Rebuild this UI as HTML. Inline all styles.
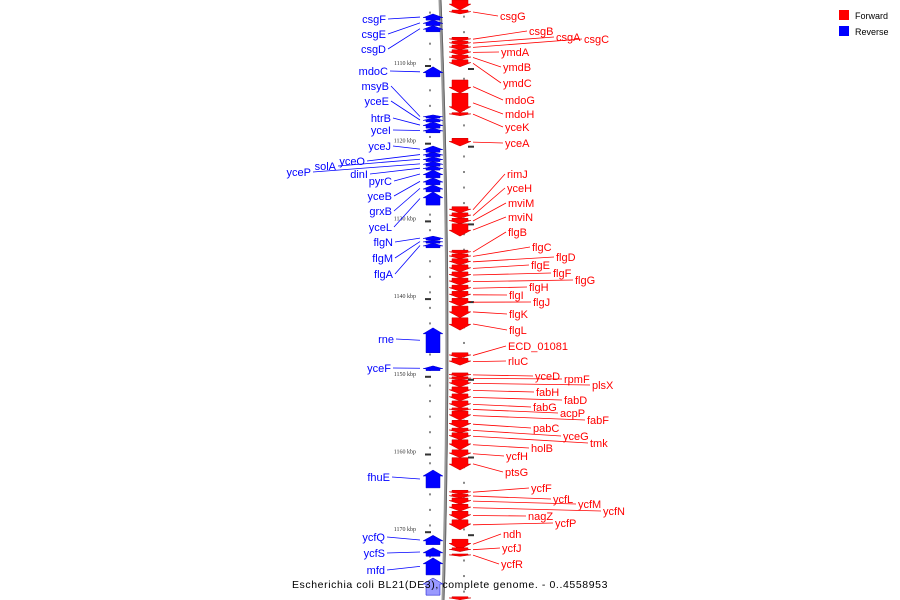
<!DOCTYPE html>
<html><head><meta charset="utf-8"><style>
html,body{margin:0;padding:0;background:#fff;}
svg{display:block;font-family:"Liberation Sans",sans-serif;}
</style></head><body>
<svg id="chart" width="900" height="600" viewBox="0 0 900 600">
<path d="M440,0 Q452,300 443,600" stroke="#999" stroke-width="3" fill="none"/>
<path d="M441,0 Q453,300 444,600" stroke="#666" stroke-width="1" fill="none"/>
<g id="ticks"></g><g id="genes"></g><g id="lines"></g><g id="labels"></g>
<g>
<rect x="839" y="10" width="10" height="10" fill="#f00"/>
<text x="855" y="19" font-size="9" fill="#000">Forward</text>
<rect x="839" y="26" width="10" height="10" fill="#00f"/>
<text x="855" y="35" font-size="9" fill="#000">Reverse</text>
</g>
<text x="450" y="588" text-anchor="middle" font-size="10.5" letter-spacing="0.6" fill="#000">Escherichia coli BL21(DE3), complete genome. - 0..4558953</text>
</svg>
<script>
// gene data: name, strand (1 fwd, -1 rev), start kbp, end kbp
const geneNames = ["top","csgG","csgB","csgA","csgC","ymdA","ymdB","ymdC","mdoG","mdoH","yceK","yceA","rimJ","yceH","mviM","mviN","flgB","flgC","flgD","flgE","flgF","flgG","flgH","flgI","flgJ","flgK","flgL","ECD_01081","rluC","yceD","rpmF","plsX","fabH","fabD","fabG","acpP","fabF","pabC","yceG","tmk","holB","ycfH","ptsG","ycfF","ycfL","ycfM","ycfN","nagZ","ycfP","ndh","ycfJ","ycfR","bottom",
"csgF","csgE","csgD","mdoC","msyB","yceE","htrB","yceI","yceJ","yceO","solA","yceP","dinI","pyrC","yceB","grxB","yceL","flgN","flgM","flgA","rne","yceF","fhuE","ycfQ","ycfS","mfd","next"];
const geneStrand = [1,1,1,1,1,1,1,1,1,1,1,1,1,1,1,1,1,1,1,1,1,1,1,1,1,1,1,1,1,1,1,1,1,1,1,1,1,1,1,1,1,1,1,1,1,1,1,1,1,1,1,1,1,
-1,-1,-1,-1,-1,-1,-1,-1,-1,-1,-1,-1,-1,-1,-1,-1,-1,-1,-1,-1,-1,-1,-1,-1,-1,-1];
const geneStart = [1101.5,1102.8,1106.3,1106.8,1107.3,1107.9,1108.6,1109.2,1111.8,1113.5,1116.0,1119.3,1128.1,1128.9,1129.6,1130.3,1133.7,1134.2,1134.8,1135.6,1136.5,1137.3,1138.2,1139.0,1139.9,1140.9,1142.4,1146.9,1147.6,1149.5,1150.0,1150.4,1151.3,1152.2,1153.1,1154.0,1154.4,1155.6,1156.6,1157.2,1158.1,1159.4,1160.4,1164.6,1165.1,1165.6,1166.4,1167.3,1168.4,1170.9,1172.0,1172.8,1178.3,
1103.3,1104.1,1104.8,1110.1,1116.3,1116.7,1117.2,1118.0,1120.3,1121.1,1121.7,1122.3,1122.9,1123.4,1124.4,1125.3,1126.2,1131.9,1132.4,1132.8,1143.7,1148.6,1162.0,1170.4,1172.0,1173.3,1175.9];
const geneEnd = [1102.8,1103.3,1106.8,1107.3,1107.9,1108.6,1109.2,1110.1,1113.5,1116.0,1116.4,1120.3,1128.9,1129.6,1130.3,1131.9,1134.2,1134.8,1135.6,1136.5,1137.3,1138.2,1139.0,1139.9,1140.9,1142.4,1144.0,1147.6,1148.5,1150.0,1150.4,1151.3,1152.2,1153.1,1154.0,1154.4,1155.6,1156.6,1157.2,1158.1,1159.4,1160.4,1162.0,1165.1,1165.6,1166.4,1167.3,1168.4,1169.7,1172.2,1172.5,1173.1,1178.7,
1104.1,1104.8,1105.6,1111.4,1116.7,1117.2,1118.0,1118.6,1121.1,1121.7,1122.3,1122.9,1123.4,1124.4,1125.3,1126.2,1127.9,1132.4,1132.8,1133.4,1146.9,1149.2,1164.3,1171.6,1173.1,1175.5,1178.1];
const tickLabels = [1110,1120,1130,1140,1150,1160,1170];
// label layout (pixel positions, not data)
const labelPos = {csgG:[500,16],csgB:[529,31],csgA:[556,37],csgC:[584,39],ymdA:[501,52],ymdB:[503,67],ymdC:[503,83],mdoG:[505,100],mdoH:[505,114],yceK:[505,127],yceA:[505,143],rimJ:[507,174],yceH:[507,188],mviM:[508,203],mviN:[508,217],flgB:[508,232],flgC:[532,247],flgD:[556,257],flgE:[531,265],flgF:[553,273],flgG:[575,280],flgH:[529,287],flgI:[509,295],flgJ:[533,302],flgK:[509,314],flgL:[509,330],ECD_01081:[508,346],rluC:[508,361],yceD:[535,376],rpmF:[564,379],plsX:[592,385],fabH:[536,392],fabD:[564,400],fabG:[533,407],acpP:[560,413],fabF:[587,420],pabC:[533,428],yceG:[563,436],tmk:[590,443],holB:[531,448],ycfH:[506,456],ptsG:[505,472],ycfF:[531,488],ycfL:[553,499],ycfM:[578,504],ycfN:[603,511],nagZ:[528,516],ycfP:[555,523],ndh:[503,534],ycfJ:[502,548],ycfR:[501,564],
csgF:[386,19],csgE:[386,34],csgD:[386,49],mdoC:[388,71],msyB:[389,86],yceE:[389,101],htrB:[391,118],yceI:[391,130],yceJ:[391,146],yceO:[365,161],solA:[336,166],yceP:[311,172],dinI:[368,174],pyrC:[392,181],yceB:[392,196],grxB:[392,211],yceL:[392,227],flgN:[393,242],flgM:[393,258],flgA:[393,274],rne:[394,339],yceF:[391,368],fhuE:[390,477],ycfQ:[385,537],ycfS:[385,553],mfd:[385,570]};
const SVGNS="http://www.w3.org/2000/svg";
function y(k){return 66+(k-1110)*7.77;}
function mk(tag,attrs,parent){const e=document.createElementNS(SVGNS,tag);for(const a in attrs)e.setAttribute(a,attrs[a]);parent.appendChild(e);return e;}
const gT=document.getElementById('ticks'),gG=document.getElementById('genes'),gL=document.getElementById('lines'),gX=document.getElementById('labels');
for(let k=1101;k<=1179;k+=2){const yy=y(k);if(yy<2||yy>598)continue;
 const d1=mk('rect',{x:429,y:yy,width:2,height:2,fill:'#888'},gT);
 
 
 const d2=mk('rect',{x:463,y:yy+4,width:2,height:2,fill:'#888'},gT);
 
 }
tickLabels.forEach(t=>{const yy=y(t);
 const r=mk('rect',{x:425,y:yy-1,width:6,height:2,fill:'#333'},gT);
 
 
 const r2=mk('rect',{x:468,y:yy+2,width:6,height:2,fill:'#333'},gT);
 
 
 const tx=mk('text',{x:416,y:yy-1,'font-size':6,'text-anchor':'end',fill:'#333','font-family':'Liberation Serif,serif'},gT);
 tx.textContent=t+' kbp';
 
 });
geneNames.forEach((n,i)=>{
 const s=geneStrand[i],y0=y(geneStart[i]),y1=y(geneEnd[i]);const len=y1-y0;const h=Math.min(6,len*0.6);
 let pts,fill,mid=(y0+y1)/2;
 if(s>0){pts=[[452,y0],[468,y0],[468,y1-h],[471,y1-h],[460,y1],[449,y1-h],[452,y1-h]];fill=(n==='bottom')?'#f00':'#f00';}
 else{pts=[[440,y1],[426,y1],[426,y0+h],[423,y0+h],[433,y0],[443,y0+h],[440,y0+h]];fill=(n==='next')?'#99f':'#00f';}
 const p=mk('polygon',{points:pts.map(q=>q.join(',')).join(' '),fill:fill,stroke:s>0?'#c00':'#00c','stroke-width':0.5},gG);
 
 
 const lp=labelPos[n];if(!lp)return;
 const col=s>0?'#f00':'#00f';
 const ln=mk('line',{x1:s>0?473:420,y1:mid,x2:s>0?lp[0]-2:lp[0]+2,y2:lp[1],stroke:col,'stroke-width':0.8},gL);
 
 
 const t=mk('text',{x:lp[0],y:lp[1]+4,'font-size':11,fill:col,'text-anchor':s>0?'start':'end'},gX);
 t.textContent=n;
 
 
});
</script>
</body></html>
